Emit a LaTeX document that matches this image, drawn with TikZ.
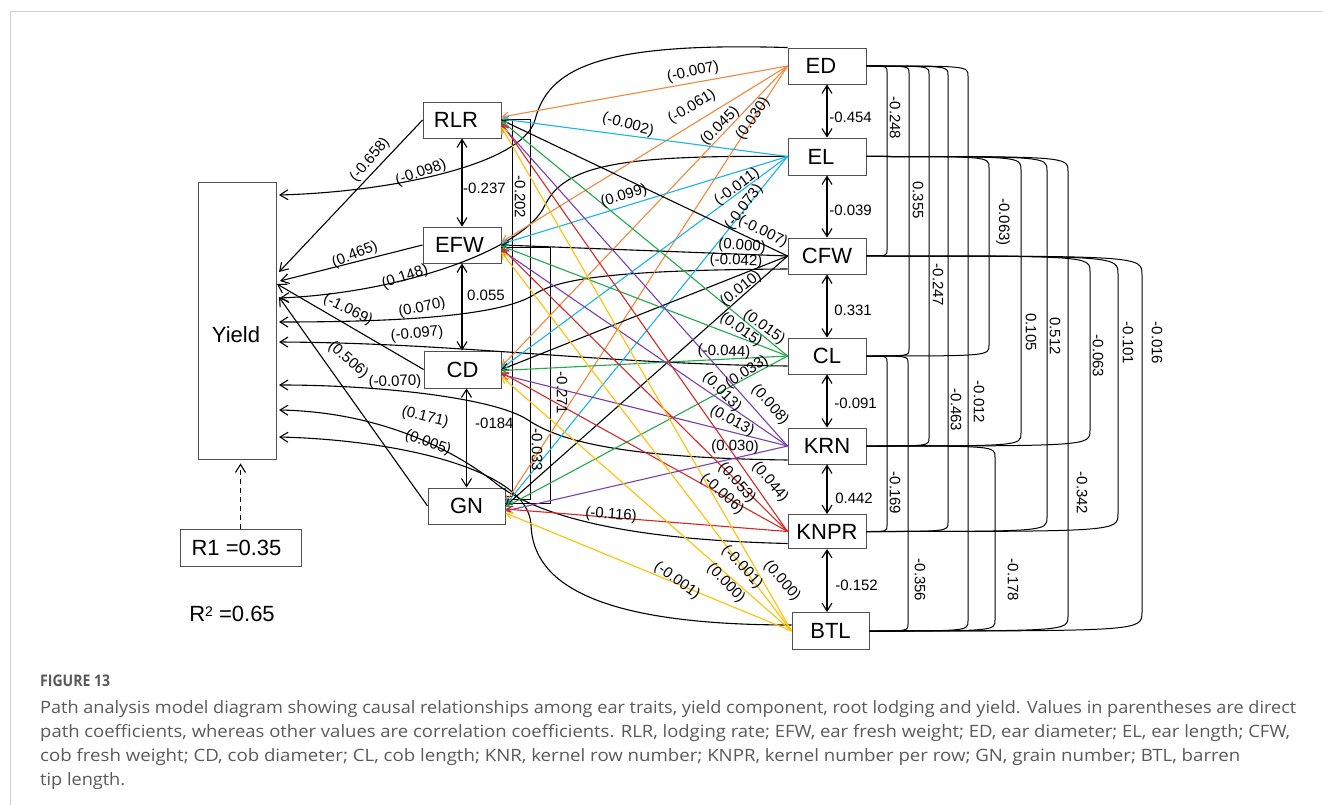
\documentclass[tikz,border=0pt]{standalone}
\usepackage{fontspec}
\setmainfont{Liberation Sans}
\newfontfamily\capfont{Open Sans}
\usepackage{graphicx}
\usetikzlibrary{arrows.meta,calc}
\definecolor{cOr}{HTML}{F0883E}
\definecolor{cBl}{HTML}{19B4EA}
\definecolor{cGr}{HTML}{22A94A}
\definecolor{cPu}{HTML}{7B3FB0}
\definecolor{cRe}{HTML}{D42828}
\definecolor{cYe}{HTML}{FFC000}
\definecolor{capgray}{HTML}{5A5A5A}
\definecolor{framegray}{HTML}{D0D0D0}
\definecolor{boxline}{HTML}{505050}
\newcommand{\rcorr}[4]{%
  \draw[corr] let \p1=(#1.east), \p2=(#2.east) in
    (\p1) .. controls (#3pt,\y1) .. (#3pt,\y1-#4pt) -- (#3pt,\y2+#4pt) .. controls (#3pt,\y2) .. (\p2);}
\begin{document}
\begin{tikzpicture}[x=1pt,y=-1pt,
  box/.style={draw=boxline,line width=0.9pt,fill=white,inner sep=0pt,font=\fontsize{22}{26}\selectfont},
  lab/.style={font=\fontsize{15}{18}\selectfont,inner sep=0pt},
  vlab/.style={lab,rotate=-90},
  conn/.style={line width=1.1pt,-{Straight Barb[length=8pt,width=10pt]}},
  carr/.style={line width=1.1pt,-{Straight Barb[length=6pt,width=7pt]}},
  dbl/.style={line width=1.1pt,{Straight Barb[length=8pt,width=10pt]}-{Straight Barb[length=8pt,width=10pt]}},
  corr/.style={line width=1pt},
  captxt/.style={font=\capfont\fontsize{17}{21}\selectfont,text=capgray,inner sep=0pt,anchor=base west}]
\useasboundingbox (0,0) rectangle (1323,805);
\fill[white] (0,0) rectangle (1323,805);
\draw[framegray,line width=1pt] (1323,12) -- (10,12) -- (10,805);

% nodes
\node[box,minimum width=78pt,minimum height=277pt] (Y) at (237,320.5) {};
\node[font=\fontsize{22}{26}\selectfont,inner sep=0pt] (Ytext) at (236,335) {Yield};
\node[box,minimum width=78pt,minimum height=36pt] (RLR) at (462,120) {\hspace*{-12pt}RLR};
\node[box,minimum width=78pt,minimum height=36pt] (EFW) at (462,245) {\hspace*{-5pt}EFW};
\node[box,minimum width=77pt,minimum height=37pt] (CD) at (462.5,369.5) {CD};
\node[box,minimum width=77pt,minimum height=36pt] (GN) at (466.5,506) {GN};
\node[box,minimum width=78pt,minimum height=36pt] (ED) at (827,66) {\hspace*{-12pt}ED};
\node[box,minimum width=78pt,minimum height=37pt] (EL) at (827,156.5) {\hspace*{-12pt}EL};
\node[box,minimum width=78pt,minimum height=36pt] (CFW) at (827,256) {CFW};
\node[box,minimum width=78pt,minimum height=36pt] (CL) at (827,356) {CL};
\node[box,minimum width=78pt,minimum height=36pt] (KRN) at (827,446) {KRN};
\node[box,minimum width=78pt,minimum height=34pt] (KNPR) at (827,531.5) {KNPR};
\node[box,minimum width=77pt,minimum height=37pt] (BTL) at (830.5,631) {BTL};
\node[box,minimum width=121pt,minimum height=37pt] (R1) at (240.5,547.5) {\hspace*{-8pt}R1 =0.35};
\node[font=\fontsize{22}{26}\selectfont,inner sep=0pt] (R2) at (232,614) {R\raisebox{5pt}{\fontsize{14}{14}\selectfont 2} =0.65};

% arrival points on Yield
\coordinate (yED) at (279,195);
\coordinate (yRLR) at (279,272);
\coordinate (yEFW) at (280,281);
\coordinate (yCD) at (277,284);
\coordinate (yGN) at (279,297);
\coordinate (yEL) at (280,298);
\coordinate (yCFW) at (279,322);
\coordinate (yCL) at (279,342);
\coordinate (yKRN) at (279,385);
\coordinate (yKNPR) at (279,410);
\coordinate (yBTL) at (279,437);

% right-hand correlation brackets
\rcorr{ED}{CFW}{887}{6}
\rcorr{ED}{CL}{909}{7}
\rcorr{ED}{KRN}{929}{8}
\rcorr{ED}{KNPR}{948}{9}
\rcorr{ED}{BTL}{968}{10}
\rcorr{EL}{CL}{989}{11}
\rcorr{EL}{KRN}{1021}{13}
\rcorr{EL}{KNPR}{1047}{14}
\rcorr{EL}{BTL}{1068}{15}
\rcorr{CFW}{KRN}{1090}{16}
\rcorr{CFW}{KNPR}{1118}{18}
\rcorr{CFW}{BTL}{1142}{19}
\rcorr{CL}{KNPR}{887}{6}
\rcorr{CL}{BTL}{908}{7}
\rcorr{KRN}{BTL}{995}{11}

% left-hand correlation brackets
\draw[corr] (RLR.east) -| (512,496) -- ($(GN.east)+(0,-10)$);
\draw[corr] (RLR.east) -| (530,499) -- ($(GN.east)+(0,-7)$);
\draw[corr] ($(EFW.east)+(0,3)$) -| (550,503) -- ($(GN.east)+(0,-3)$);

% paths to Yield
\draw[conn] (RLR.west) -- (yRLR);
\draw[conn] (EFW.west) -- (yEFW);
\draw[conn] (CD.west) -- (yCD);
\draw[conn] (GN.west) -- (yGN);
\draw[conn] (ED.north west) .. controls (600,42) and (548,68) .. (535,120) .. controls (522,165) and (390,192) .. (yED);
\draw[conn] (EL.west) .. controls (620,155) and (565,165) .. (545,205) .. controls (525,250) and (400,293) .. (yEL);
\draw[conn] ($(CFW.west)+(0,13)$) .. controls (620,270) and (560,278) .. (535,294) .. controls (500,318) and (380,322) .. (yCFW);
\draw[conn] ($(CL.west)+(0,10)$) .. controls (600,364) and (460,343) .. (yCL);
\draw[conn] ($(KRN.west)+(0,14)$) .. controls (640,458) and (565,445) .. (528,420) .. controls (495,398) and (380,385) .. (yKRN);
\draw[conn] ($(KNPR.west)+(0,12)$) .. controls (640,540) and (545,520) .. (498,485) .. controls (455,450) and (380,412) .. (yKNPR);
\draw[conn] ($(BTL.west)+(0,-6)$) .. controls (600,625) and (533,585) .. (531,525) .. controls (529,470) and (400,440) .. (yBTL);

% coloured direct paths
\foreach \s/\clr/\o in {ED/cOr/-3,EL/cBl/-1,CFW/black/0,CL/cGr/1,KRN/cPu/5,KNPR/cRe/3,BTL/cYe/7}{
  \foreach \t in {RLR,EFW,CD,GN}{
    \draw[carr,draw=\clr] (\s.west) -- ($(\t.east)+(0,\o)$);
  }
}

% double arrows
\draw[dbl] (RLR.south) -- (EFW.north);
\draw[dbl] (EFW.south) -- (EFW.south |- CD.north);
\draw[dbl] (GN.north |- CD.south) -- (GN.north);
\draw[dbl] (ED.south) -- (EL.north);
\draw[dbl] (EL.south) -- (CFW.north);
\draw[dbl] (CFW.south) -- (CL.north);
\draw[dbl] (CL.south) -- (KRN.north);
\draw[dbl] (KRN.south) -- (KNPR.north);
\draw[dbl] (KNPR.south) -- (KNPR.south |- BTL.north);

% dashed arrow
\draw[conn,dashed,dash pattern=on 5pt off 4pt,shorten >=4pt] (R1.north) -- (R1.north |- Y.south);

% correlation labels
\node[lab,anchor=west] (c1) at (463,188) {-0.237};
\node[lab,anchor=west] (c2) at (467,295) {0.055};
\node[lab,anchor=west] (c3) at (475,423) {-0184};
\node[lab,anchor=east] (c4) at (872,117) {-0.454};
\node[lab,anchor=east] (c5) at (872,210) {-0.039};
\node[lab,anchor=east] (c6) at (872,310) {0.331};
\node[lab,anchor=east] (c7) at (877,403) {-0.091};
\node[lab,anchor=east] (c8) at (873,498) {0.442};
\node[lab,anchor=east] (c9) at (878,585) {-0.152};
\node[vlab] (k1) at (520,197) {-0.202};
\node[vlab] (k2) at (537,450) {-0.033};
\node[vlab] (k3) at (562,393) {-0.271};
\node[vlab] (v1) at (895,118) {-0.248};
\node[vlab] (v2) at (918,200) {0.355};
\node[vlab] (v3) at (938,285) {-0.247};
\node[vlab] (v4) at (956,410) {-0.463};
\node[vlab] (v5) at (979,402) {-0.012};
\node[vlab] (v6) at (1003,222) {-0.063)};
\node[vlab] (v7) at (1031,332) {0.105};
\node[vlab] (v8) at (1055,336) {0.512};
\node[vlab] (v9) at (1082,493) {-0.342};
\node[vlab] (v10) at (1098,356) {-0.063};
\node[vlab] (v11) at (1128,343) {-0.101};
\node[vlab] (v12) at (1157,343) {-0.016};
\node[vlab] (v13) at (895,493) {-0.169};
\node[vlab] (v14) at (920,580) {-0.356};
\node[vlab] (v15) at (1013,580) {-0.178};

% labels on paths to Yield
\node[lab,rotate=50] (p1) at (370,160) {(-0.658)};
\node[lab,rotate=19] (p2) at (421,173) {(-0.098)};
\node[lab,rotate=21] (p3) at (355,255) {(0.465)};
\node[lab,rotate=18] (p4) at (405,277) {(0.148)};
\node[lab,rotate=-26] (p5) at (348,310) {(-1.069)};
\node[lab,rotate=12] (p6) at (422,308) {(0.070)};
\node[lab,rotate=5] (p7) at (417,334) {(-0.097)};
\node[lab,rotate=-41] (p8) at (348,360) {(0.506)};
\node[lab,rotate=2] (p9) at (395,382) {(-0.070)};
\node[lab,rotate=-14] (p10) at (425,417) {(0.171)};
\node[lab,rotate=-19] (p11) at (428,443) {(0.005)};

% labels on coloured paths
\node[lab,rotate=12] (q1) at (693,72) {(-0.007)};
\node[lab,rotate=31] (q2) at (692,107) {(-0.061)};
\node[lab,rotate=45] (q3) at (720,126) {(0.045)};
\node[lab,rotate=55] (q4) at (753,119) {(0.030)};
\node[lab,rotate=-15] (q5) at (628,125) {(-0.002)};
\node[lab,rotate=17] (q6) at (624,196) {(0.099)};
\node[lab,rotate=36] (q7) at (737,187) {(-0.011)};
\node[lab,rotate=53] (q8) at (744,207) {(-0.073)};
\node[lab,rotate=-26] (q9) at (763,232) {(-0.007)};
\node[lab,rotate=-4] (q10) at (742,246) {(0.000)};
\node[lab,rotate=-2] (q11) at (736,261) {(-0.042)};
\node[lab,rotate=38] (q12) at (741,289) {(0.010)};
\node[lab,rotate=-36] (q13) at (764,327) {(0.015)};
\node[lab,rotate=-35] (q14) at (741,330) {(0.015)};
\node[lab,rotate=-2] (q15) at (724,352) {(-0.044)};
\node[lab,rotate=33] (q16) at (747,372) {(0.033)};
\node[lab,rotate=-45] (q17) at (722,392) {(0.013)};
\node[lab,rotate=-48] (q18) at (770,405) {(0.008)};
\node[lab,rotate=-28] (q19) at (732,421) {(0.013)};
\node[lab,rotate=-2] (q20) at (735,447) {(0.030)};
\node[lab,rotate=-48] (q21) at (737,483) {(0.053)};
\node[lab,rotate=-50] (q22) at (770,482) {(0.044)};
\node[lab,rotate=-42] (q23) at (722,494) {(-0.006)};
\node[lab,rotate=-4] (q24) at (611,515) {(-0.116)};
\node[lab,rotate=-36] (q25) at (677,581) {(-0.001)};
\node[lab,rotate=-46] (q26) at (726,583) {(0.000)};
\node[lab,rotate=-47] (q27) at (742,567) {(-0.001)};
\node[lab,rotate=-49] (q28) at (782,581) {(0.000)};

% caption
\node[captxt,font=\capfont\bfseries\fontsize{16}{19}\selectfont] (fig) at (40,686) {\resizebox{70pt}{\height}{FIGURE 13}};
\node[captxt] (cap1) at (40,713) {\resizebox{1256pt}{\height}{Path analysis model diagram showing causal relationships among ear traits, yield component, root lodging and yield. Values in parentheses are direct}};
\node[captxt] (cap2) at (40,737) {\resizebox{1250pt}{\height}{path coefficients, whereas other values are correlation coefficients. RLR, lodging rate; EFW, ear fresh weight; ED, ear diameter; EL, ear length; CFW,}};
\node[captxt] (cap3) at (40,761) {\resizebox{1200pt}{\height}{cob fresh weight; CD, cob diameter; CL, cob length; KNR, kernel row number; KNPR, kernel number per row; GN, grain number; BTL, barren}};
\node[captxt] (cap4) at (40,785) {\resizebox{85pt}{\height}{tip length.}};
\end{tikzpicture}
\end{document}
